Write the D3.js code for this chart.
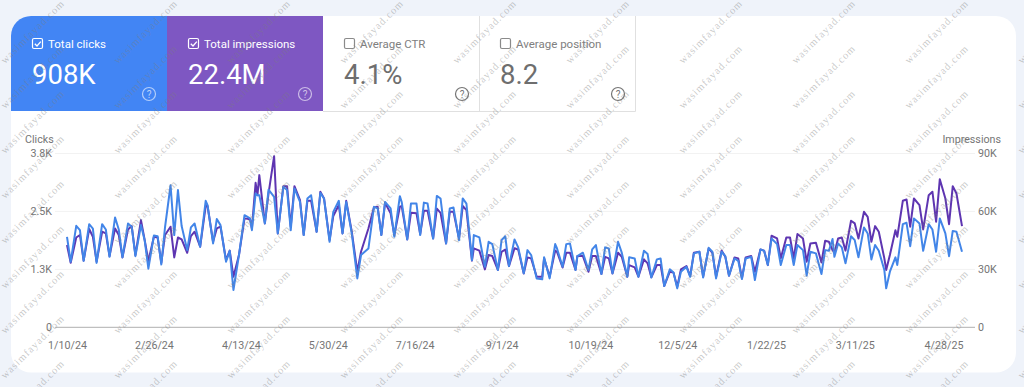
<!DOCTYPE html>
<html>
<head>
<meta charset="utf-8">
<script src="https://cdn.jsdelivr.net/npm/d3@7"></script>
<style>
  html, body { margin: 0; padding: 0; background: #eff3fa; overflow: hidden; }
  svg { display: block; font-family: Roboto, sans-serif; }
</style>
</head>
<body>
<svg id="chart" width="1024" height="387"></svg>
<script>
// days since 1/10/24, shared by both series
const days = [0,2,5,7,9,12,14,16,19,21,23,26,28,30,33,35,37,40,42,44,47,49,51,53,56,58,60,62,65,67,69,72,75,76,79,81,83,86,88,90,93,96,99,100,102,103,104,107,109,112,114,117,119,121,123,126,128,130,132,135,137,139,142,144,147,149,151,154,157,159,163,166,168,170,172,175,177,180,181,184,186,189,191,193,195,198,200,202,205,207,209,212,214,216,219,220,223,226,228,230,233,235,237,239,242,244,247,249,251,254,257,258,261,264,265,268,270,272,275,276,279,282,284,286,289,291,293,295,298,300,303,304,307,309,312,314,316,319,321,323,326,328,330,332,335,337,339,342,344,347,349,351,354,356,358,361,363,365,367,370,372,375,377,379,381,384,386,389,391,393,395,398,400,402,405,408,410,412,414,415,417,419,421,424,426,428,431,433,435,437,439,442,443,445,448,449,452,454,456,458,461,463,466,468,470,472,475,477,479,481,484];

const clicks = [1950,1415,2190,2095,1435,2225,2130,1390,2225,2110,1520,2370,2110,1510,2240,2170,1535,2205,1880,1265,1980,1965,1355,2155,3065,1990,2960,2185,1665,2155,2240,1740,2730,2635,1810,2335,2205,1415,1650,805,1560,2420,2350,2095,2885,2850,2850,2240,2970,2815,2025,3030,2960,2095,2995,2705,1990,2780,2850,2060,2900,2780,1845,2490,2730,2025,2705,2025,1055,1560,1700,2600,2565,1990,2705,2565,1955,2830,2705,1895,2670,2670,1990,2690,2670,1915,2835,2780,1810,2565,2585,1880,2780,2670,1450,1990,1940,1305,1845,1795,1235,1880,1965,1320,1895,1725,1165,1665,1560,1055,1035,1510,1055,1795,1700,1305,1795,1810,1235,1535,1610,1235,1680,1775,1150,1725,1700,1165,1845,1610,1090,1510,1485,1090,1650,1580,1075,1465,1485,890,1250,1180,840,1200,1305,1090,1595,1630,1075,1715,1630,1055,1630,1535,1115,1485,1435,1040,1485,1520,1020,1680,1650,1345,1915,1795,1345,1775,1775,1345,1775,1665,1115,1630,1595,1150,1665,1650,1905,1520,1810,1725,1380,1965,1880,1510,2155,2025,1465,1775,1650,1235,840,1200,1510,1345,2225,2255,1750,2350,2240,1650,2225,2110,1630,2350,2025,1535,2080,2060,1630];

const impressions = [42600,33400,46500,47800,34500,50900,46900,34000,49500,48600,36900,51200,47800,36200,50700,52400,37400,55500,45200,34300,46900,46500,33400,47800,52100,36200,46500,45500,38600,47200,49500,41700,62800,62800,44300,51200,52100,34800,39700,26200,37400,56400,55900,51200,74800,68400,78800,53800,69300,88600,48600,73100,73100,52100,73100,65900,47800,65500,65500,49500,70200,66700,45200,57600,63300,48600,65500,49500,28800,39100,51200,62100,62400,47800,64500,59000,47800,62400,62800,45500,59300,59000,48300,60300,60300,46000,61500,59300,43400,59800,59800,46000,62800,60700,34500,40900,39700,30000,37400,36900,29700,39100,40300,31700,40900,40300,27900,36200,35700,26200,26200,35700,26200,39700,39100,31000,38600,38600,29700,36900,36900,28800,36900,36900,27600,36500,35700,27900,38600,36500,26200,32200,31000,26200,35200,33100,25900,32200,32200,21400,28800,28300,21000,30000,31700,26500,38600,39100,26200,40900,38600,26200,39700,36500,26700,36200,35700,25300,36200,36900,28800,40300,39700,32200,47400,46000,35700,46500,46500,35700,48300,46000,34000,43400,43800,33600,44800,44300,40000,38600,46000,46500,39700,55200,53800,46000,59800,57200,44300,52400,49500,35700,29700,37400,50300,46900,65500,66200,52100,66700,63300,50700,68400,70200,54700,76700,66700,53400,73100,69300,52400];

const clickTicks = [0, 1250, 2500, 3750];
const clickTickLabels = ["0", "1.3K", "2.5K", "3.8K"];
const imprTicks = [0, 30000, 60000, 90000];
const imprTickLabels = ["0", "30K", "60K", "90K"];
const dateTicks = ["2024-01-10","2024-02-26","2024-04-13","2024-05-30","2024-07-16","2024-09-01","2024-10-19","2024-12-05","2025-01-22","2025-03-11","2025-04-28"];

const cardLabels = ["Total clicks", "Total impressions", "Average CTR", "Average position"];
const cardValues = ["908K", "22.4M", "4.1%", "8.2"];
const cardColors = ["#4285f4", "#7e57c2", null, null];

let chart = d3.select("#chart");

let startDay = new Date(2024, 0, 10);
let toDate = d => new Date(2024, 0, 10 + d);
let fmt = d3.timeFormat("%-m/%-d/%y");

let xscale = d3.scaleTime()
    .domain([startDay, toDate(484)])
    .range([67, 962]);

let yClicks = d3.scaleLinear().domain([0, 3750]).range([327.3, 153.5]);
let yImpr = d3.scaleLinear().domain([0, 90000]).range([327.3, 153.5]);

// white panel
chart.append("rect")
    .attr("x", 11).attr("y", 16)
    .attr("width", 1005).attr("height", 356.5)
    .attr("rx", 20)
    .attr("fill", "#fff");

// metric cards
let cardW = 156, cardH = 95, cardX = 11, cardY = 16;

cardLabels.forEach(function (label, i) {
    let x = cardX + i * cardW;
    let g = chart.append("g").attr("transform", "translate(" + x + "," + cardY + ")");
    let on = cardColors[i] != null;

    if (i == 0) {
        // only the first one has the rounded corner
        g.append("path")
            .attr("d", "M0," + cardH + "V20A20,20 0 0 1 20,0H" + cardW + "V" + cardH + "Z")
            .attr("fill", cardColors[i]);
    } else if (on) {
        g.append("rect").attr("width", cardW).attr("height", cardH).attr("fill", cardColors[i]);
    } else {
        g.append("path")
            .attr("d", "M0," + cardH + ".5H" + (cardW + .5) + "V0")
            .attr("fill", "none")
            .attr("stroke", "#e0e0e0");
    }

    g.append("rect")
        .attr("x", 21.5).attr("y", 22.5)
        .attr("width", 10).attr("height", 10)
        .attr("rx", 1.5)
        .attr("fill", "none")
        .attr("stroke", on ? "#fff" : "#8a8a8a")
        .attr("stroke-width", 1.2);

    if (on) {
        g.append("path")
            .attr("d", "M23.8,27.8l2.2,2.2l3.8,-4.4")
            .attr("fill", "none")
            .attr("stroke", "#fff")
            .attr("stroke-width", 1.3);
    }

    g.append("text")
        .attr("x", 37).attr("y", 31.5)
        .attr("font-size", 11.5)
        .attr("fill", on ? "#fff" : "#808080")
        .text(label);

    g.append("text")
        .attr("x", 21).attr("y", 68)
        .attr("font-size", 27.5)
        .attr("fill", on ? "#fff" : "#6e6e6e")
        .text(cardValues[i]);

    // help icon
    let help = g.append("g").attr("transform", "translate(" + (on ? 138 : 139) + ",78)");
    help.append("circle")
        .attr("r", 6.5)
        .attr("fill", "none")
        .attr("stroke", on ? "rgba(255,255,255,.6)" : "#757575")
        .attr("stroke-width", 1.2);
    help.append("text")
        .attr("text-anchor", "middle").attr("y", 3.5)
        .attr("font-size", 10)
        .attr("fill", on ? "rgba(255,255,255,.65)" : "#757575")
        .text("?");
});

// grid
chart.append("g")
    .selectAll("line")
    .data(clickTicks.slice(1))
    .enter().append("line")
    .attr("x1", 55).attr("x2", 975)
    .attr("y1", d => yClicks(d)).attr("y2", d => yClicks(d))
    .attr("stroke", "#f2f2f2");

// axes
let axisLeft = chart.append("g")
    .attr("transform", "translate(55,0)")
    .call(d3.axisLeft(yClicks).tickValues(clickTicks)
        .tickFormat((d, i) => clickTickLabels[i]).tickSize(0).tickPadding(3));

let axisRight = chart.append("g")
    .attr("transform", "translate(975,0)")
    .call(d3.axisRight(yImpr).tickValues(imprTicks)
        .tickFormat((d, i) => imprTickLabels[i]).tickSize(0).tickPadding(3));

let axisBottom = chart.append("g")
    .attr("transform", "translate(0,327.3)")
    .call(d3.axisBottom(xscale)
        .tickValues(dateTicks.map(d => d3.timeParse("%Y-%m-%d")(d)))
        .tickFormat(fmt).tickSize(0).tickPadding(14));

[axisLeft, axisRight, axisBottom].forEach(function (a) {
    a.selectAll(".domain").remove();
    a.selectAll("text")
        .attr("font-family", "Roboto, sans-serif")
        .attr("font-size", 10.7)
        .attr("fill", "#757575");
});

chart.append("line")
    .attr("x1", 55).attr("x2", 975)
    .attr("y1", 327.3).attr("y2", 327.3)
    .attr("stroke", "#b0b0b0");

chart.append("text")
    .attr("x", 25).attr("y", 143)
    .attr("font-size", 10.7).attr("fill", "#757575")
    .text("Clicks");

chart.append("text")
    .attr("x", 1001).attr("y", 143)
    .attr("text-anchor", "end")
    .attr("font-size", 10.7).attr("fill", "#757575")
    .text("Impressions");

// series
let imprLine = d3.line()
    .x((d, i) => xscale(toDate(days[i])))
    .y(d => yImpr(d));

let clickLine = d3.line()
    .x((d, i) => xscale(toDate(days[i])))
    .y(d => yClicks(d));

chart.append("path")
    .attr("d", imprLine(impressions))
    .attr("fill", "none")
    .attr("stroke", "#5e35b1")
    .attr("stroke-width", 2)
    .attr("stroke-linejoin", "round");

chart.append("path")
    .attr("d", clickLine(clicks))
    .attr("fill", "none")
    .attr("stroke", "#4285e8")
    .attr("stroke-width", 2)
    .attr("stroke-linejoin", "round");

// watermark, cut by the bottom and right edges as in the original
let marks = chart.append("g");
for (let r = 0; r < 9; r++) {
    for (let c = 0; c < 10; c++) {
        marks.append("text")
            .attr("transform", "translate(" + (33 + c * 113) + "," + (32 + r * 45) + ") rotate(-45)")
            .attr("text-anchor", "middle")
            .attr("dy", 3)
            .attr("font-family", "'Liberation Serif', serif")
            .attr("font-size", 10.5)
            .attr("letter-spacing", 1)
            .attr("fill", "rgba(125,125,125,.42)")
            .text("wasimfayad.com");
    }
}
</script>
</body>
</html>
